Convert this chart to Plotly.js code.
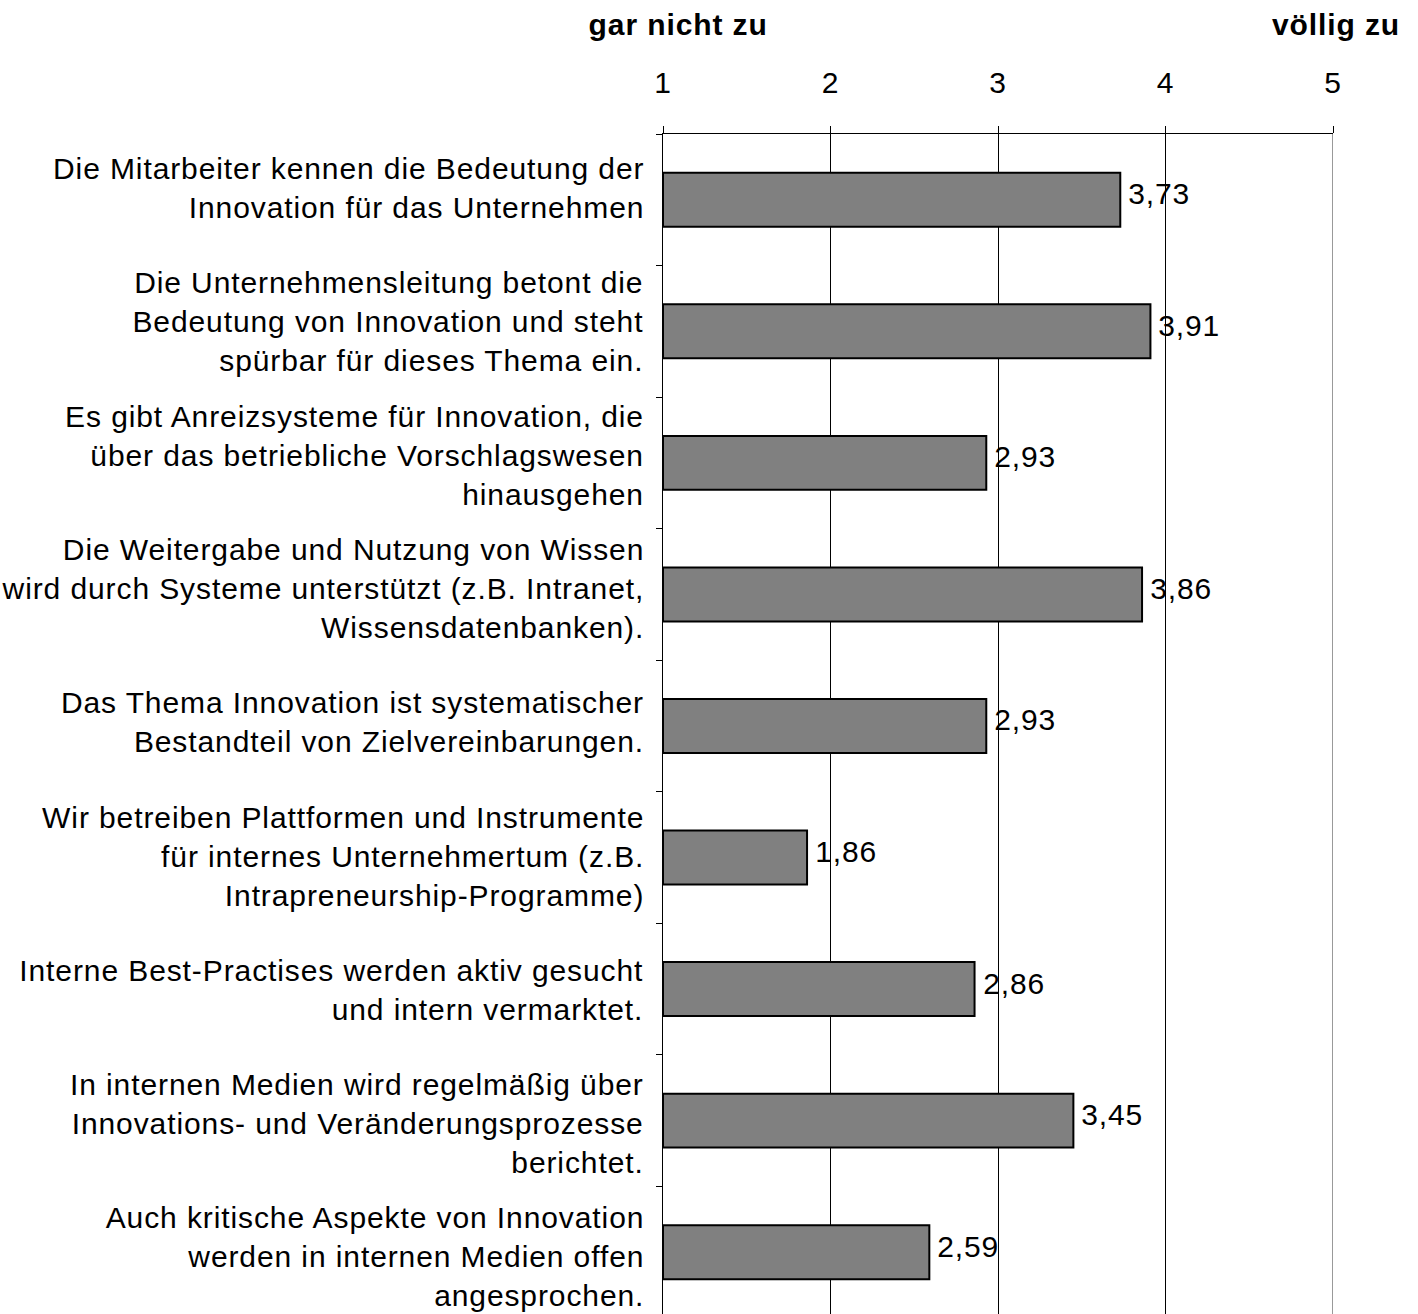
<!DOCTYPE html>
<html>
<head>
<meta charset="utf-8">
<script src="https://cdn.plot.ly/plotly-3.0.1.min.js"></script>
<style>
html,body{margin:0;padding:0;background:#fff;}
#chart{width:1418px;height:1314px;}
#chart svg text{letter-spacing:0.9px;}
</style>
</head>
<body>
<div id="chart"></div>
<script>
const categories = [
  "Die Mitarbeiter kennen die Bedeutung der<br>Innovation für das Unternehmen",
  "Die Unternehmensleitung betont die<br>Bedeutung von Innovation und steht<br>spürbar für dieses Thema ein.",
  "Es gibt Anreizsysteme für Innovation, die<br>über das betriebliche Vorschlagswesen<br>hinausgehen",
  "Die Weitergabe und Nutzung von Wissen<br>wird durch Systeme unterstützt (z.B. Intranet,<br>Wissensdatenbanken).",
  "Das Thema Innovation ist systematischer<br>Bestandteil von Zielvereinbarungen.",
  "Wir betreiben Plattformen und Instrumente<br>für internes Unternehmertum (z.B.<br>Intrapreneurship-Programme)",
  "Interne Best-Practises werden aktiv gesucht<br>und intern vermarktet.",
  "In internen Medien wird regelmäßig über<br>Innovations- und Veränderungsprozesse<br>berichtet.",
  "Auch kritische Aspekte von Innovation<br>werden in internen Medien offen<br>angesprochen."
];
const values = [3.73, 3.91, 2.93, 3.86, 2.93, 1.86, 2.86, 3.45, 2.59];
const xTicks = [1, 2, 3, 4, 5];
const scaleLow = "gar nicht zu";
const scaleHigh = "völlig zu";

const FONT = "Liberation Sans, Arial, sans-serif";
const FS = 30;
const idx = categories.map((_, i) => i);

const trace = {
  type: 'bar',
  orientation: 'h',
  x: values.map(v => v - 1),
  base: values.map(() => 1),
  y: idx,
  width: 0.41,
  marker: {color: '#808080', line: {color: '#000', width: 2}},
  hoverinfo: 'skip'
};

const annotations = [];
categories.forEach((c, i) => {
  annotations.push({
    xref: 'paper', yref: 'y2', x: 0, y: i, xanchor: 'right', yanchor: 'middle',
    xshift: -17, align: 'right', showarrow: false, text: c,
    font: {family: FONT, size: FS, color: '#000'}
  });
  annotations.push({
    xref: 'x', yref: 'y', x: values[i], y: i, xanchor: 'left', yanchor: 'middle',
    xshift: 8, yshift: 6, showarrow: false, text: values[i].toFixed(2).replace('.', ','),
    font: {family: FONT, size: FS, color: '#000'}
  });
});
annotations.push({
  xref: 'paper', yref: 'paper', x: 0.022, y: 1, yshift: 110, xanchor: 'center', yanchor: 'middle',
  showarrow: false, text: '<b>' + scaleLow + '</b>', font: {family: FONT, size: FS, color: '#000'}
});
annotations.push({
  xref: 'paper', yref: 'paper', x: 1.004, y: 1, yshift: 110, xanchor: 'center', yanchor: 'middle',
  showarrow: false, text: '<b>' + scaleHigh + '</b>', font: {family: FONT, size: FS, color: '#000'}
});

const layout = {
  width: 1418, height: 1314,
  margin: {l: 663, r: 85, t: 134, b: 0, pad: 0},
  paper_bgcolor: '#fff', plot_bgcolor: '#fff',
  font: {family: FONT, size: FS, color: '#000'},
  showlegend: false,
  xaxis: {
    range: [1, 5], side: 'top', tickvals: xTicks, ticktext: xTicks.map(String),
    ticks: 'outside', ticklen: 7, tickcolor: '#000', tickwidth: 1,
    showgrid: true, gridcolor: '#000', gridwidth: 1,
    showline: true, linecolor: '#000', linewidth: 1.5, zeroline: false,
    ticklabelstandoff: 21, tickfont: {family: FONT, size: FS, color: '#000'}
  },
  yaxis: {
    range: [8.47, -0.5],
    tickvals: idx.concat([idx.length]).map(v => v - 0.5),
    showticklabels: false, ticks: 'outside', ticklen: 6, tickcolor: '#000', tickwidth: 1,
    showgrid: false, showline: true, linecolor: '#000', linewidth: 1.5, zeroline: false
  },
  yaxis2: {
    overlaying: 'y', range: [8.428, -0.404], visible: false, showgrid: false, zeroline: false
  },
  shapes: [{
    type: 'line', xref: 'x', yref: 'paper', x0: 5, x1: 5, y0: 0, y1: 1,
    line: {color: '#999', width: 2}, layer: 'above'
  }],
  annotations: annotations
};

Plotly.newPlot('chart', [trace], layout, {displayModeBar: false, staticPlot: true});
</script>
</body>
</html>
